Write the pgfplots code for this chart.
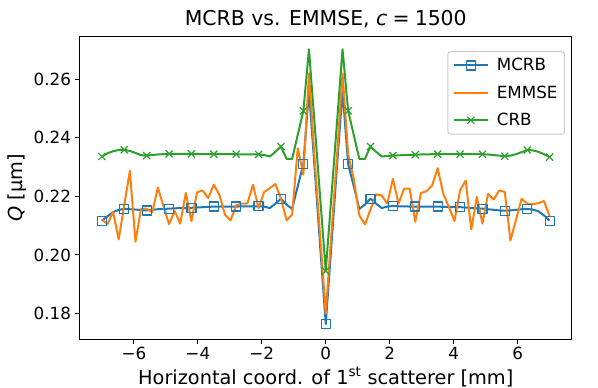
\documentclass[border=0pt]{standalone}
\usepackage{fontspec}
\setmainfont{DejaVu Sans}
\usepackage{pgfplots}
\usepackage{pgfplotstable}
\pgfplotsset{compat=1.18}
\definecolor{mplblue}{HTML}{1F77B4}
\definecolor{mplorange}{HTML}{FF7F0E}
\definecolor{mplgreen}{HTML}{2CA02C}
\definecolor{legendedge}{HTML}{CCCCCC}

% x, MCRB, EMMSE, CRB
\pgfplotstableread{
x mcrb emmse crb
-7.000 0.2117 0.2121 0.2336
-6.825 0.2132 0.2105 0.2347
-6.650 0.2146 0.2147 0.2354
-6.475 0.2154 0.2053 0.2358
-6.300 0.2157 0.2170 0.2359
-6.125 0.2156 0.2287 0.2355
-5.950 0.2155 0.2045 0.2348
-5.775 0.2153 0.2158 0.2341
-5.600 0.2152 0.2158 0.2339
-5.425 0.2154 0.2145 0.2341
-5.250 0.2156 0.2230 0.2343
-5.075 0.2157 0.2167 0.2344
-4.900 0.2158 0.2105 0.2345
-4.725 0.2159 0.2150 0.2345
-4.550 0.2160 0.2107 0.2345
-4.375 0.2160 0.2212 0.2345
-4.200 0.2161 0.2115 0.2345
-4.025 0.2162 0.2214 0.2345
-3.850 0.2163 0.2220 0.2344
-3.675 0.2164 0.2194 0.2344
-3.500 0.2165 0.2240 0.2344
-3.325 0.2165 0.2205 0.2344
-3.150 0.2165 0.2137 0.2344
-2.975 0.2165 0.2118 0.2344
-2.800 0.2165 0.2170 0.2344
-2.625 0.2166 0.2175 0.2343
-2.450 0.2166 0.2176 0.2343
-2.275 0.2166 0.2240 0.2343
-2.100 0.2166 0.2160 0.2343
-1.925 0.2165 0.2215 0.2341
-1.750 0.2160 0.2228 0.2336
-1.575 0.2175 0.2242 0.2352
-1.400 0.2192 0.2192 0.2370
-1.225 0.2172 0.2118 0.2328
-1.050 0.2157 0.2138 0.2328
-0.875 0.2235 0.2364 0.2410
-0.700 0.2310 0.2274 0.2492
-0.525 0.2560 0.2620 0.2702
-0.350 0.2300 0.2330 0.2450
-0.175 0.2030 0.2065 0.2197
0.000 0.1764 0.1800 0.1945
0.175 0.2030 0.2070 0.2197
0.350 0.2300 0.2335 0.2450
0.525 0.2560 0.2620 0.2702
0.700 0.2310 0.2344 0.2492
0.875 0.2235 0.2260 0.2410
1.050 0.2157 0.2135 0.2328
1.225 0.2172 0.2104 0.2328
1.400 0.2192 0.2155 0.2370
1.575 0.2175 0.2207 0.2352
1.750 0.2160 0.2203 0.2336
1.925 0.2165 0.2175 0.2338
2.100 0.2167 0.2260 0.2339
2.275 0.2166 0.2175 0.2340
2.450 0.2166 0.2226 0.2341
2.625 0.2165 0.2226 0.2342
2.800 0.2165 0.2113 0.2342
2.975 0.2165 0.2211 0.2343
3.150 0.2165 0.2218 0.2343
3.325 0.2165 0.2237 0.2344
3.500 0.2165 0.2296 0.2344
3.675 0.2164 0.2209 0.2344
3.850 0.2164 0.2164 0.2344
4.025 0.2163 0.2116 0.2344
4.200 0.2163 0.2220 0.2344
4.375 0.2162 0.2254 0.2344
4.550 0.2160 0.2087 0.2344
4.725 0.2159 0.2198 0.2344
4.900 0.2158 0.2107 0.2344
5.075 0.2156 0.2209 0.2343
5.250 0.2154 0.2189 0.2341
5.425 0.2152 0.2220 0.2339
5.600 0.2151 0.2215 0.2337
5.775 0.2152 0.2049 0.2339
5.950 0.2154 0.2120 0.2344
6.125 0.2156 0.2192 0.2351
6.300 0.2157 0.2175 0.2358
6.475 0.2155 0.2173 0.2357
6.650 0.2149 0.2177 0.2352
6.825 0.2135 0.2184 0.2344
7.000 0.2117 0.2132 0.2334
}\qdata

\begin{document}
\begin{tikzpicture}
\path[use as bounding box] (0,0) rectangle (598bp,388bp);
\begin{axis}[
  at={(79.5bp,49bp)}, anchor=south west,
  scale only axis, width=492.5bp, height=302bp,
  xmin=-7.7, xmax=7.7, ymin=0.1713, ymax=0.2744,
  axis line style={black, line width=1bp},
  tick pos=left, tick align=outside, major tick length=5bp,
  tick style={black, line width=1bp},
  xtick={-6,-4,-2,0,2,4,6},
  xticklabels={−6,−4,−2,0,2,4,6},
  ytick={0.18,0.20,0.22,0.24,0.26},
  yticklabels={0.18,0.20,0.22,0.24,0.26},
  ticklabel style={font=\fontsize{16.8}{18}\selectfont},
  xlabel={Horizontal coord. of 1\textsuperscript{st} scatterer [mm]},
  ylabel={{\itshape Q} [μm]},
  label style={font=\fontsize{19.4}{22}\selectfont},
  title={MCRB vs. EMMSE, {\itshape c}\hspace{0.25em}=\hspace{0.25em}1500},
  title style={font=\fontsize{20.5}{24}\selectfont},
  legend style={at={(1,1)}, anchor=north east, xshift=-7bp, yshift=-14bp,
    draw=legendedge, line width=1bp, rounded corners=3bp, fill=white,
    fill opacity=0.8, text opacity=1, inner sep=5bp, row sep=9.5bp,
    font=\fontsize{16.8}{18}\selectfont,
    /tikz/every odd column/.append style={column sep=6bp}},
  legend cell align=left,
  legend image code/.code={\draw[mark repeat=2,mark phase=2] plot coordinates {(0bp,0bp) (17bp,0bp) (34bp,0bp)};},
]
\addplot[mplblue, line width=2bp, line join=round, mark=square, mark repeat=4, mark size=4.5bp, mark options={line width=1.2bp}] table[x=x,y=mcrb]{\qdata};
\addplot[mplorange, line width=2bp, line join=round] table[x=x,y=emmse]{\qdata};
\addplot[mplgreen, line width=2bp, line join=round, mark=x, mark repeat=4, mark size=5bp, mark options={line width=1.2bp}] table[x=x,y=crb]{\qdata};
\legend{MCRB,EMMSE,CRB}
\end{axis}
\end{tikzpicture}
\end{document}
